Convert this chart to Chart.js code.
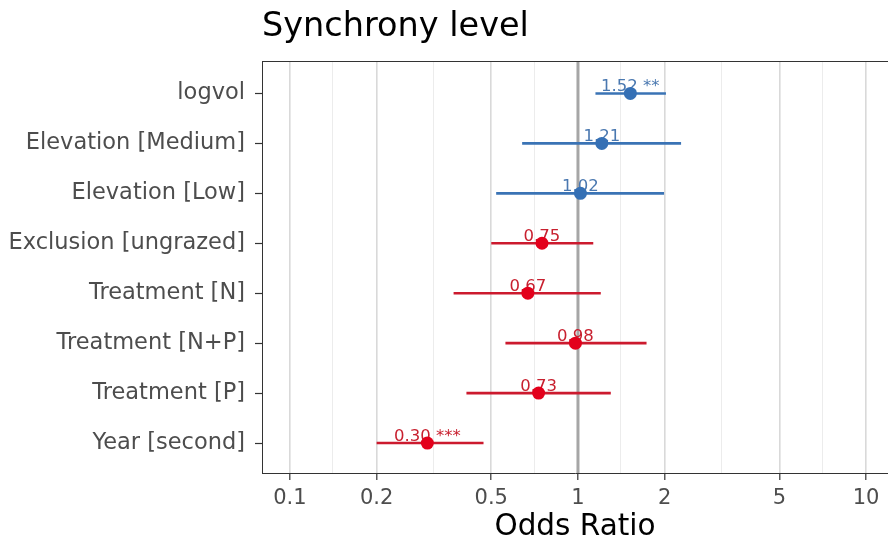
<!DOCTYPE html>
<html>
<head>
<meta charset="utf-8">
<script src="https://cdn.jsdelivr.net/npm/chart.js@4.4.1/dist/chart.umd.min.js"></script>
<style>
  html, body { margin: 0; background: #fff; }
  #wrap { width: 888px; height: 548px; }
</style>
</head>
<body>
<div id="wrap"><canvas id="forest"></canvas></div>
<script>
// ── Data ────────────────────────────────────────────────────────────────────
const terms = ['logvol', 'Elevation [Medium]', 'Elevation [Low]', 'Exclusion [ungrazed]',
               'Treatment [N]', 'Treatment [N+P]', 'Treatment [P]', 'Year [second]'];
const estimates = [1.52, 1.21, 1.02, 0.75, 0.67, 0.98, 0.73, 0.30];
const ciLow     = [1.15, 0.64, 0.52, 0.50, 0.37, 0.56, 0.41, 0.20];
const ciHigh    = [2.02, 2.28, 1.99, 1.13, 1.20, 1.73, 1.30, 0.47];
const stars     = ['**', '', '', '', '', '', '', '***'];
const majorTicks = [0.1, 0.2, 0.5, 1, 2, 5, 10];
const minorTicks = [0.141, 0.316, 0.707, 1.41, 3.16, 7.07];

// ── Style ───────────────────────────────────────────────────────────────────
const FONT = '"DejaVu Sans", sans-serif';
const BLUE_PT = '#3570b5', BLUE_LINE = '#3a73b5', BLUE_TXT = '#4a78b0';
const RED_PT = '#e3001b', RED_LINE = '#cc1a2e', RED_TXT = '#c8202f';
const isMajor = v => majorTicks.includes(v);

// error bars, reference line, value labels, top panel border
const forestPlugin = {
  id: 'forest',
  beforeDatasetsDraw(chart) {
    const { ctx, chartArea: a, scales: { x, y } } = chart;
    ctx.save();
    const x1 = x.getPixelForValue(1);
    ctx.strokeStyle = '#a6a6a6';
    ctx.lineWidth = 3;
    ctx.beginPath(); ctx.moveTo(x1, a.top); ctx.lineTo(x1, a.bottom); ctx.stroke();

    ctx.lineWidth = 2.6;
    estimates.forEach((est, i) => {
      const py = y.getPixelForValue(i + 1);
      ctx.strokeStyle = est >= 1 ? BLUE_LINE : RED_LINE;
      ctx.beginPath();
      ctx.moveTo(x.getPixelForValue(ciLow[i]), py);
      ctx.lineTo(x.getPixelForValue(ciHigh[i]), py);
      ctx.stroke();
    });

    ctx.font = '16.5px ' + FONT;
    ctx.textAlign = 'center';
    ctx.textBaseline = 'alphabetic';
    estimates.forEach((est, i) => {
      ctx.fillStyle = est >= 1 ? BLUE_TXT : RED_TXT;
      const txt = est.toFixed(2) + (stars[i] ? ' ' + stars[i] : '');
      ctx.fillText(txt, x.getPixelForValue(est), y.getPixelForValue(i + 1) - 2);
    });
    ctx.restore();
  },
  afterDraw(chart) {
    const { ctx, chartArea: a } = chart;
    ctx.save();
    ctx.strokeStyle = '#333';
    ctx.lineWidth = 1;
    ctx.beginPath(); ctx.moveTo(a.left, a.top + 0.5); ctx.lineTo(a.right, a.top + 0.5); ctx.stroke();
    ctx.restore();
  }
};

new Chart(document.getElementById('forest'), {
  type: 'scatter',
  data: {
    datasets: [{
      data: estimates.map((v, i) => ({ x: v, y: i + 1 })),
      pointRadius: 6.5,
      pointBorderWidth: 0,
      pointBackgroundColor: estimates.map(v => v >= 1 ? BLUE_PT : RED_PT)
    }]
  },
  options: {
    responsive: true,
    maintainAspectRatio: false,
    animation: false,
    layout: { padding: 0, autoPadding: false },
    plugins: {
      legend: { display: false },
      tooltip: { enabled: false },
      title: {
        display: true, text: 'Synchrony level', align: 'start', fullSize: false,
        color: '#000', font: { family: FONT, size: 33.5, weight: 'normal' },
        padding: { top: 7, bottom: 13.8 }
      }
    },
    scales: {
      x: {
        type: 'logarithmic', min: 0.08, max: 11.92,
        afterBuildTicks: s => { s.ticks = [...majorTicks, ...minorTicks].sort((p, q) => p - q).map(v => ({ value: v })); },
        afterFit: s => { s.height = 75; s.paddingLeft = 0; s.paddingRight = 0; },
        ticks: {
          autoSkip: false, maxRotation: 0, padding: 6, color: '#4d4d4d',
          font: { family: FONT, size: 21 },
          callback: v => isMajor(v) ? String(v) : ''
        },
        grid: {
          color: c => isMajor(c.tick && c.tick.value) ? '#d9d9d9' : '#ececec',
          lineWidth: c => isMajor(c.tick && c.tick.value) ? 1.6 : 1,
          tickColor: c => isMajor(c.tick && c.tick.value) ? '#333' : 'rgba(0,0,0,0)',
          tickLength: 7, tickWidth: 1.2
        },
        border: { color: '#333', width: 1 },
        title: {
          display: true, text: 'Odds Ratio', color: '#000',
          font: { family: FONT, size: 29.5 }, padding: { top: 0, bottom: 3 }
        }
      },
      y: {
        type: 'linear', reverse: true, min: 0.35, max: 8.6,
        afterBuildTicks: s => { s.ticks = terms.map((_, i) => ({ value: i + 1 })); },
        afterFit: s => { s.width = 262; },
        ticks: {
          autoSkip: false, padding: 10, color: '#4d4d4d',
          font: { family: FONT, size: 22.5 },
          callback: v => terms[v - 1]
        },
        grid: { drawOnChartArea: false, tickLength: 7, tickColor: '#333', tickWidth: 1.2 },
        border: { color: '#333', width: 1 }
      }
    }
  },
  plugins: [forestPlugin]
});
</script>
</body>
</html>
